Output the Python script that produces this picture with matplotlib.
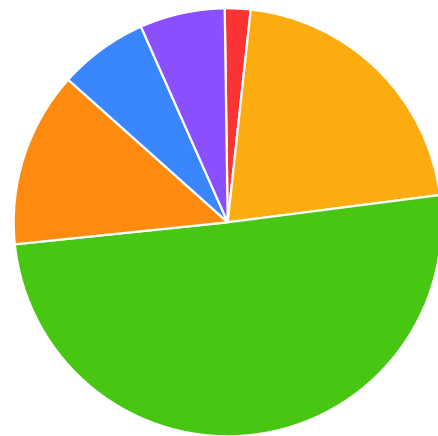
import matplotlib
matplotlib.use("Agg")
import matplotlib.pyplot as plt

labels = ["Red", "Yellow", "Green", "Orange", "Blue", "Purple"]
values = [1.94, 21.25, 50.4, 13.25, 6.75, 6.42]
colors = ["#fa3434", "#fdac0f", "#47c612", "#fe8a10", "#3a86ff", "#8a4fff"]

W, H = 439, 436
fig = plt.figure(figsize=(W / 100, H / 100), dpi=100)
cx, cy, r = 227.7, 436 - 222.3, 214.0
ax = fig.add_axes([(cx - r) / W, (cy - r) / H, 2 * r / W, 2 * r / H])
ax.pie(values, colors=colors, startangle=90.8, counterclock=False, radius=1,
       wedgeprops=dict(edgecolor="white", linewidth=1.6))
for p in ax.patches:
    p.set_clip_on(False)
ax.set_xlim(-1, 1)
ax.set_ylim(-1, 1)
ax.set_aspect("equal")
ax.axis("off")
fig.savefig("out.png", dpi=100)
